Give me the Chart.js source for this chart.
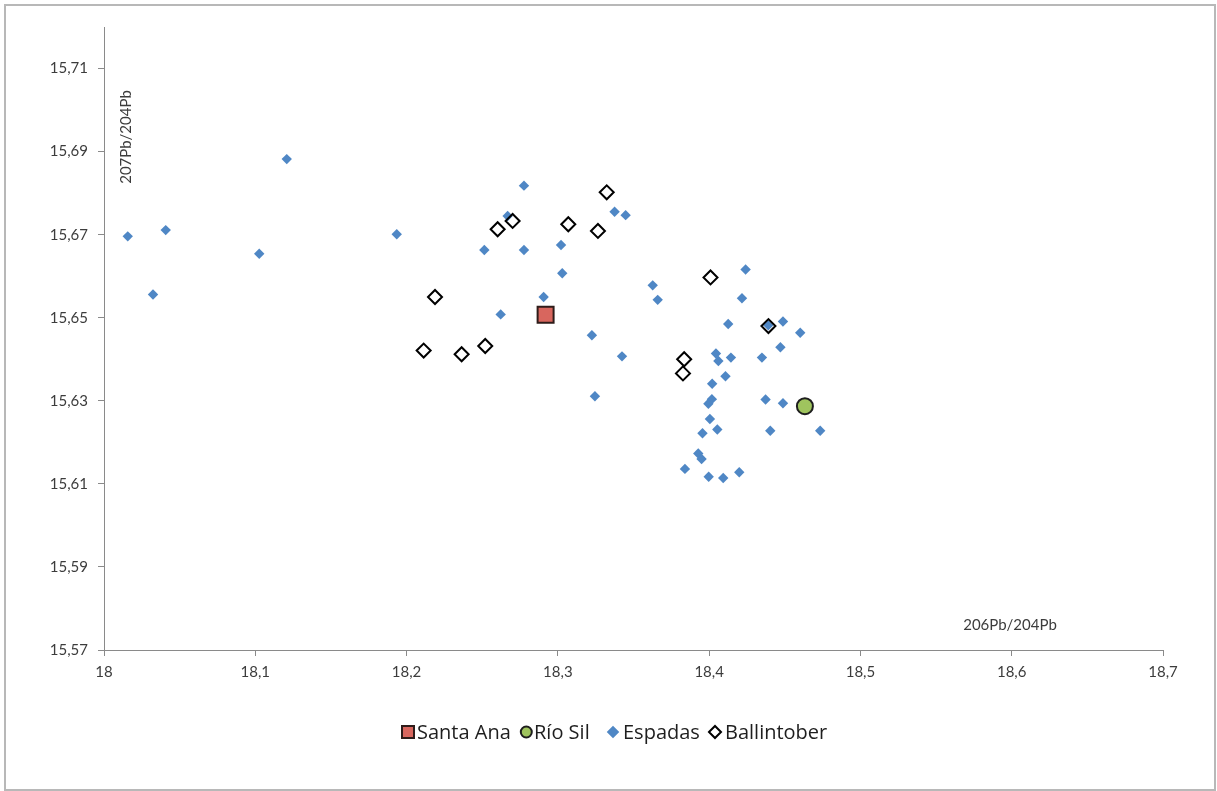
<!DOCTYPE html>
<html>
<head>
<meta charset="utf-8">
<script src="https://cdn.jsdelivr.net/npm/chart.js@4/dist/chart.umd.min.js"></script>
<style>
  html, body { margin: 0; padding: 0; background: #ffffff; }
  canvas { display: block; }
</style>
</head>
<body>
<canvas id="chart" width="1217" height="791"></canvas>
<script>
// Axis ticks (values and their comma-decimal labels)
const xTickValues = [18, 18.1, 18.2, 18.3, 18.4, 18.5, 18.6, 18.7];
const xTickLabels = ['18', '18,1', '18,2', '18,3', '18,4', '18,5', '18,6', '18,7'];
const yTickValues = [15.57, 15.59, 15.61, 15.63, 15.65, 15.67, 15.69, 15.71];
const yTickLabels = ['15,57', '15,59', '15,61', '15,63', '15,65', '15,67', '15,69', '15,71'];

// Series: 206Pb/204Pb (x) and 207Pb/204Pb (y)
const santaAnaX = [18.2919];
const santaAnaY = [15.6507];

const rioSilX = [18.4633];
const rioSilY = [15.6287];

const espadasX = [
  18.0157, 18.0408, 18.0324, 18.1026, 18.1208, 18.1935, 18.2514, 18.2776, 18.2668, 18.2776,
  18.3021, 18.3029, 18.2906, 18.2622, 18.3375, 18.3448, 18.3225, 18.3424, 18.3245, 18.3627,
  18.3660, 18.4241, 18.4217, 18.4126, 18.4391, 18.4488, 18.4602, 18.4471, 18.4349, 18.4144,
  18.4045, 18.4061, 18.4108, 18.4020, 18.4018, 18.3995, 18.4373, 18.4488, 18.4005, 18.4054,
  18.3956, 18.4404, 18.4734, 18.3928, 18.3950, 18.3840, 18.3997, 18.4093, 18.4199
];
const espadasY = [
  15.6696, 15.6711, 15.6556, 15.6654, 15.6882, 15.6701, 15.6663, 15.6818, 15.6745, 15.6663,
  15.6675, 15.6607, 15.6550, 15.6508, 15.6755, 15.6747, 15.6458, 15.6407, 15.6311, 15.6578,
  15.6543, 15.6616, 15.6547, 15.6485, 15.6482, 15.6491, 15.6464, 15.6429, 15.6404, 15.6404,
  15.6414, 15.6396, 15.6359, 15.6341, 15.6304, 15.6293, 15.6303, 15.6294, 15.6256, 15.6231,
  15.6222, 15.6228, 15.6228, 15.6173, 15.6160, 15.6136, 15.6117, 15.6114, 15.6128
];

const ballintoberX = [
  18.3323, 18.2701, 18.2602, 18.3069, 18.3265, 18.2188, 18.2113, 18.2364, 18.2520,
  18.4009, 18.4392, 18.3835, 18.3827
];
const ballintoberY = [
  15.6802, 15.6733, 15.6713, 15.6725, 15.6709, 15.6550, 15.6421, 15.6412, 15.6432,
  15.6597, 15.6480, 15.6400, 15.6366
];

const xTitle = '206Pb/204Pb';
const yTitle = '207Pb/204Pb';

function points(xs, ys) {
  return xs.map((x, i) => ({ x: x, y: ys[i] }));
}

const AXIS_COLOR = '#8a8a8a';
const TEXT_COLOR = '#3c3c3c';
const TICK_FONT = { family: 'Lato', size: 15 };

const datasets = [
  {
    label: 'Santa Ana',
    data: points(santaAnaX, santaAnaY),
    pointStyle: 'rect',
    pointRadius: 11.3,
    backgroundColor: '#d8665e',
    borderColor: '#2e1c1a',
    borderWidth: 2,
    order: 3
  },
  {
    label: 'Río Sil',
    data: points(rioSilX, rioSilY),
    pointStyle: 'circle',
    pointRadius: 8,
    backgroundColor: '#9fc45e',
    borderColor: '#1e1e1e',
    borderWidth: 2,
    order: 2
  },
  {
    label: 'Espadas',
    data: points(espadasX, espadasY),
    pointStyle: 'rectRot',
    pointRadius: 5.2,
    backgroundColor: '#4f87c5',
    borderColor: '#4f87c5',
    borderWidth: 0,
    order: 1
  },
  {
    label: 'Ballintober',
    data: points(ballintoberX, ballintoberY),
    pointStyle: 'rectRot',
    pointRadius: 7,
    backgroundColor: 'rgba(255,255,255,0)',
    borderColor: '#000000',
    borderWidth: 2,
    order: 0
  }
];

// Frame around the whole figure
const framePlugin = {
  id: 'frame',
  beforeDraw(chart) {
    const ctx = chart.ctx;
    ctx.save();
    ctx.fillStyle = '#ffffff';
    ctx.fillRect(0, 0, chart.width, chart.height);
    ctx.strokeStyle = '#b8b8b8';
    ctx.lineWidth = 2;
    ctx.strokeRect(5, 5, 1210, 785);
    ctx.restore();
  }
};

// Axis titles placed inside the plot area
const axisTitlePlugin = {
  id: 'axisTitles',
  afterDraw(chart) {
    const ctx = chart.ctx;
    ctx.save();
    ctx.fillStyle = TEXT_COLOR;
    ctx.font = '15px Lato';
    ctx.textAlign = 'center';
    ctx.textBaseline = 'middle';
    ctx.fillText(xTitle, 1010, 625);
    ctx.translate(126, 137);
    ctx.rotate(-Math.PI / 2);
    ctx.fillText(yTitle, 0, 0);
    ctx.restore();
  }
};

// Legend row below the plot, using each dataset's marker style
const legendPlugin = {
  id: 'legendRow',
  afterDraw(chart) {
    const ctx = chart.ctx;
    const cy = 732;
    const items = [
      { ds: 0, mx: 408, tx: 417, size: 14 },
      { ds: 1, mx: 526.3, tx: 534, size: 13 },
      { ds: 2, mx: 613, tx: 623, size: 12.5 },
      { ds: 3, mx: 715, tx: 725, size: 14 }
    ];
    ctx.save();
    for (const it of items) {
      const d = chart.data.datasets[it.ds];
      ctx.fillStyle = d.backgroundColor;
      ctx.strokeStyle = d.borderColor;
      ctx.lineWidth = d.borderWidth;
      const h = it.size / 2 - d.borderWidth / 2;
      ctx.beginPath();
      if (d.pointStyle === 'rect') {
        ctx.rect(it.mx - h, cy - h, 2 * h, 2 * h);
      } else if (d.pointStyle === 'circle') {
        ctx.arc(it.mx, cy, h, 0, Math.PI * 2);
      } else {
        const r = d.borderWidth > 0 ? h : it.size / 2;
        ctx.moveTo(it.mx - r, cy);
        ctx.lineTo(it.mx, cy - r);
        ctx.lineTo(it.mx + r, cy);
        ctx.lineTo(it.mx, cy + r);
        ctx.closePath();
      }
      ctx.fill();
      if (d.borderWidth > 0) ctx.stroke();
      ctx.fillStyle = '#1e1e1e';
      ctx.font = '20px "Open Sans"';
      ctx.textAlign = 'left';
      ctx.textBaseline = 'middle';
      ctx.fillText(d.label, it.tx, cy + 1);
    }
    ctx.restore();
  }
};

new Chart(document.getElementById('chart'), {
  type: 'scatter',
  data: { datasets: datasets },
  options: {
    responsive: false,
    animation: false,
    events: [],
    layout: { padding: { left: 0, top: 27, right: 54, bottom: 101 } },
    plugins: {
      legend: { display: false },
      tooltip: { enabled: false },
      title: { display: false }
    },
    scales: {
      x: {
        type: 'linear',
        min: 18,
        max: 18.7,
        afterBuildTicks(axis) { axis.ticks = xTickValues.map(v => ({ value: v })); },
        afterFit(axis) { axis.height = 40; },
        ticks: {
          autoSkip: false,
          maxRotation: 0,
          padding: 7,
          color: TEXT_COLOR,
          font: TICK_FONT,
          callback: (v, i) => xTickLabels[i]
        },
        grid: { drawOnChartArea: false, drawTicks: true, tickLength: 6, color: AXIS_COLOR },
        border: { color: AXIS_COLOR, width: 1 }
      },
      y: {
        type: 'linear',
        min: 15.57,
        max: 15.72,
        afterBuildTicks(axis) { axis.ticks = yTickValues.map(v => ({ value: v })); },
        afterFit(axis) { axis.width = 104; },
        ticks: {
          autoSkip: false,
          padding: 10,
          color: TEXT_COLOR,
          font: TICK_FONT,
          callback: (v, i) => yTickLabels[i]
        },
        grid: { drawOnChartArea: false, drawTicks: true, tickLength: 6, color: AXIS_COLOR },
        border: { color: AXIS_COLOR, width: 1 }
      }
    }
  },
  plugins: [framePlugin, axisTitlePlugin, legendPlugin]
});
</script>
</body>
</html>
